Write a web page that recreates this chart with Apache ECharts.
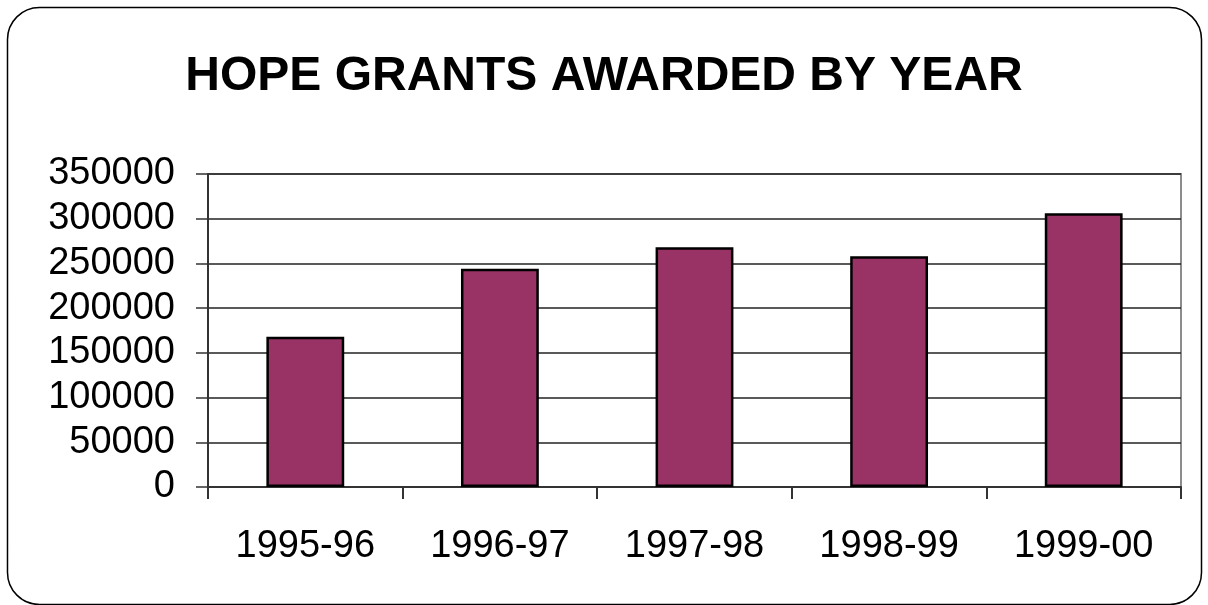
<!DOCTYPE html>
<html>
<head>
<meta charset="utf-8">
<script src="https://cdn.jsdelivr.net/npm/echarts@6/dist/echarts.min.js"></script>
<style>
  html, body { margin: 0; padding: 0; background: #fff; }
  #chart { width: 1208px; height: 605px; }
</style>
</head>
<body>
<div id="chart"></div>
<script>
const years = ['1995-96', '1996-97', '1997-98', '1998-99', '1999-00']
const grants = [168000, 244000, 268000, 258000, 306000]
const yMin = 0
const yMax = 350000
const yStep = 50000

const FONT = '"Liberation Sans", Arial, sans-serif'

const chart = echarts.init(document.getElementById('chart'))
chart.setOption({
  animation: false,
  title: {
    text: 'HOPE GRANTS AWARDED BY YEAR',
    left: 'center',
    top: 48,
    textStyle: { fontFamily: FONT, fontSize: 48, fontWeight: 'bold', color: '#000' },
  },
  graphic: [{
    type: 'rect',
    shape: { x: 7.5, y: 7.5, width: 1194, height: 597, r: 32 },
    style: { fill: 'none', stroke: '#000', lineWidth: 1.5 },
    z: -1,
  }],
  grid: {
    left: 208, right: 27, top: 174, bottom: 118,
    show: true, borderColor: '#8c8c8c', borderWidth: 2, backgroundColor: 'transparent',
  },
  xAxis: {
    type: 'category',
    data: years,
    axisLine: { lineStyle: { color: '#333', width: 2 } },
    axisTick: { show: true, length: 12, lineStyle: { color: '#333', width: 2 } },
    axisLabel: { fontFamily: FONT, fontSize: 38, color: '#000', margin: 41 },
  },
  yAxis: {
    type: 'value',
    min: yMin, max: yMax, interval: yStep,
    axisLine: { show: true, lineStyle: { color: '#333', width: 2 } },
    axisTick: { show: true, length: 12, lineStyle: { color: '#333', width: 1.5 } },
    axisLabel: {
      fontFamily: FONT, fontSize: 38, color: '#000', margin: 33,
      formatter: (v) => String(v),
    },
    splitLine: { lineStyle: { color: '#222', width: 1.5 } },
  },
  series: [{
    type: 'bar',
    data: grants,
    barWidth: '40%',
    itemStyle: { color: '#993366', borderColor: '#000', borderWidth: 2.5 },
  }],
})
</script>
</body>
</html>
